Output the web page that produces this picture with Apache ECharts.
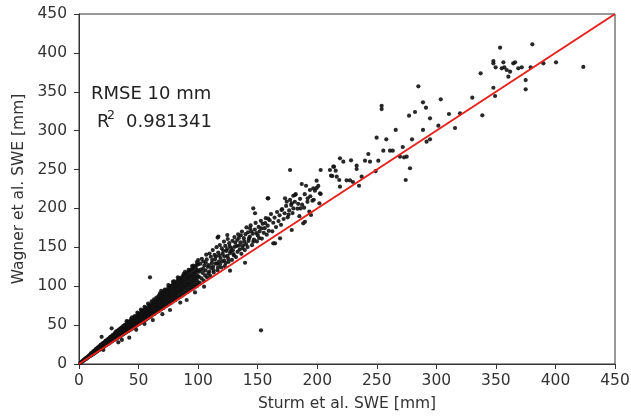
<!DOCTYPE html>
<html>
<head>
<meta charset="utf-8">
<script src="https://cdn.jsdelivr.net/npm/echarts@6/dist/echarts.min.js"></script>
<style>html,body{margin:0;padding:0;background:#fff}#c{width:631px;height:416px}</style>
</head>
<body>
<div id="c"></div>
<script>
// Axis ticks
const axisTicks = [0, 50, 100, 150, 200, 250, 300, 350, 400, 450];
// Annotation texts
const rmseText = 'RMSE 10 mm';
const r2Value = '0.981341';
// 1:1 reference line [Sturm, Wagner]
const oneToOne = [[0, 0], [450, 450]];

// Dense low range: [Sturm SWE, Wagner SWE]
const denseLow = [
[1,1.2],[2,2.5],[2.5,3],[3,3.6],[3.5,4.2],[4,4.6],[4,5.3],[5,5.8],[5,6.6],[6,6.5],[6,7.8],[7,7.6],[7,9],[8,8.7],[8,10.4],[9,10],[9,11.6],
[10,10.8],[10,12.5],[10,13.6],[11,12],[11,14.2],[12,13],[12,15.1],[12,16.3],[13,13.9],[13,16.8],[14,15.2],[14,17.5],[14,19],[15,16],[15,18.4],[15,20.2],
[16,17.2],[16,19.8],[16,21.5],[17,18],[17,20.7],[17,22.8],[18,19.3],[18,21.6],[18,24],[19,20.4],[19,23],[19,25.4],[20,21],[20,23.8],[20,26.5],
[21,22.3],[21,25],[21,27.6],[22,23.5],[22,26.2],[22,29],[23,24.6],[23,27.5],[23,30.2],[24,25.3],[24,28.4],[24,31.5],[25,26.6],[25,29.5],[25,32.8],
[26,27.4],[26,30.8],[26,34],[27,28.8],[27,31.6],[27,35.2],[28,29.5],[28,33],[28,36.4],[29,30.6],[29,34.2],[29,37.8],[30,31.5],[30,35],[30,39]
];

// Dense columns: [Sturm SWE, [Wagner SWE values]]
const denseCols = [
[31,[32,35.5,38.6,41.5]],[32.5,[33.4,36.8,40.1,43]],[34,[35,38.4,41.7,44.9]],[35.5,[36.4,39.6,43.5,46.8]],
[37,[38,41.3,45,48.6]],[38.5,[39.4,43,46.5,50.4]],[40,[41,44.6,48.2,52,55]],[41.5,[42.5,46,50,53.5]],
[43,[44,47.6,51.5,55.6]],[44.5,[45.3,49.4,53,57.2,60]],[46,[47,50.8,54.7,59]],[47.5,[48.3,52.5,56.4,60.6]],
[49,[50,54,58.3,62.5,66]],[50.5,[51.4,55.5,60,64]],[52,[53,57.4,61.6,66,70]],[53.5,[54.2,58.8,63.5,67.8]],
[55,[56,60.6,65,69.5,73.5]],[56.5,[57.3,62,66.8,71.2]],[58,[59,63.8,68.5,73,77.6]],[59.5,[60.3,65.4,70.2,75]],
[61,[62,66.5,71.5,76,80.5]],[63,[64,69,73.6,78.5,83]],[65,[66.2,71,76,80.5,85.4]],[67,[68,73,78.3,83,88]],
[69,[70.3,75.2,80.4,85.5,90.4,94]],[71,[72,77.5,82.6,88,93]],[73,[74.4,79.6,85,90.3,95.4]],[75,[76.2,81.8,87.4,92.5,98,101.5]],
[77,[78,84,89.5,95,100.5]],[79,[80.5,86,91.6,97.4,103,106]],[81,[82.2,88,94,99.6,105]],[83,[84.5,90.4,96.2,102,108,111.5]],
[85,[86.4,92.6,98.5,104.5,110]],[87,[88.2,94.5,100.8,107,113]],[89,[90.5,96.8,103,109.4,115.2,118.5]],[91,[92.4,99,105.2,111.6,117.5]],
[93,[94.6,101.2,107.6,114,120.4]],[95,[96.3,103,110,116.2,122.5,126]],[97,[98.5,105.4,112,118.6,125]],[99,[100.4,107.5,114.3,121,127.5,131]]
];

// Extra dense fill between the columns: [Sturm SWE, [Wagner SWE values]]
const denseFill = [
[10.5,[11.5,13]],[11.5,[12.6,14.8]],[12.5,[14,15.8]],[13.5,[14.6,17.2]],[14.5,[16.5,18.2]],[15.5,[17,19.5]],[16.5,[18.3,20.6]],[17.5,[19,21.9]],
[18.5,[20.2,22.6,24.8]],[19.5,[21.5,24.2]],[20.5,[22,25.1,27]],[21.5,[23.6,26]],[22.5,[24.2,27.5,29.8]],[23.5,[25.6,28.8]],[24.5,[26.2,29.8,32]],
[25.5,[27.8,31.2]],[26.5,[28.3,32.4,34.8]],[27.5,[29.9,33.4]],[28.5,[30.4,34.8,37]],[29.5,[32.2,36]],
[30.5,[33.6,37,40.2]],[31.8,[34,37.8,42]],[33.2,[35.8,39.6,43.4]],[34.8,[36.4,40.5,44]],[36.2,[38.6,42.5,46]],[37.8,[39.5,43.8,47.6]],
[39.2,[41.6,45.5,49.8]],[40.8,[42.2,47,51.6,54.4]],[42.2,[44.6,48.8,52.7]],[43.8,[45.2,49.8,54.6,58]],[45.2,[47.8,52,56.2]],[46.8,[48.5,53.3,57.8,61.5]],
[48.2,[50.6,55,59.6]],[49.8,[51.5,56.6,61.4,64.8]],[51.2,[53.8,58.5,63]],[52.8,[54.5,59.8,64.7,68.5]],[54.2,[57,61.8,66.6]],[55.8,[57.6,63.2,68,72]],
[57.2,[60,65,70]],[58.8,[60.8,66.4,71.6,75.8]],[60.2,[63.2,68.3,73.4]],
[62,[64.5,69.4,74.2,78.8]],[64,[66.5,71.8,76.8,81.5]],[66,[68.6,74,79.3,84]],[68,[70.8,76.4,81.8,86.6,90.8]],[70,[72.6,78,83.8,89.4]],
[72,[74.8,80.6,86.3,91.8,95.5]],[74,[76.8,82.8,88.6,94.2]],[76,[79,85,91,96.8,100.5]],[78,[81,87.3,93.4,99.4]],[80,[83,89.5,95.8,102,106.3]],
[82,[85.3,91.8,98.2,104.4]],[84,[87.4,94,100.6,107,110.5]],[86,[89.4,96.2,103,109.6]],[88,[91.5,98.6,105.6,112.2,116]],[90,[93.6,100.8,108,114.6]],
[92,[95.8,103,110.3,117.2,121]],[94,[98,105.4,112.6,119.8]],[96,[100,107.6,115,122.4,126.5]],[98,[102,110,117.6,124.8]],[100,[104,112,120,128,133.5]]
];

// Band between 100 and 200 mm: [Sturm SWE, Wagner SWE]
const bandMid = [
[101.3,104.8],[100.6,112.5],[102.2,121.4],[101.8,129],[103.1,135.2],
[104.7,107.3],[103.9,117.1],[105.2,126.6],[104.4,131.8],[106.8,140.6],
[107.5,111.4],[106.3,120.3],[108.1,124.9],[107.2,134.4],[109.6,142.1],
[110.2,113.2],[109.4,118.7],[111.5,129.7],[110.7,137.9],[112.3,146.5],
[113.1,117.8],[112.6,125.1],[114.2,134.8],[113.8,140.3],[115.5,150.2],
[116.3,120.5],[115.7,128.9],[117.4,131.6],[116.9,143.2],[118.2,152.9],
[119.5,124.1],[118.8,136.2],[120.6,141.7],[119.9,148.6],[121.7,157.4],
[122.4,125.9],[121.9,133.1],[123.6,145.3],[122.8,151.8],[124.9,160.7],
[125.6,131.4],[124.7,138.9],[126.8,142.6],[126.1,155.3],[127.7,149.2],
[128.4,133.8],[129.2,146.1],[128.9,158.4],[130.5,163.2],[130.1,139.6],
[131.8,137.5],[132.4,151.7],[131.2,155.9],[133.6,166.8],[133.1,144.2],
[134.9,147.1],[135.6,156.3],[134.2,162.1],[136.8,170.3],[136.3,141.7],
[137.7,152.4],[138.4,161.8],[139.2,146.5],[139.8,166.9],[140.6,175.6],
[141.5,150.3],[142.3,158.2],[141.9,169.4],[143.4,163.7],[144.1,178.2],
[145.2,152.8],[145.8,167.5],[146.9,160.1],[147.6,172.9],[148.3,181.4],
[149.4,157.6],[150.1,165.3],[150.8,176.2],[151.6,170.4],[152.7,184.1],
[153.5,161.2],[154.2,180.3],[155.1,168.7],[155.9,174.6],[156.8,187.5],
[157.6,166.3],[158.4,177.9],[159.3,171.2],[160.1,184.8],[161.2,192.7],
[162.3,170.6],[163.1,181.6],[164.2,188.3],[165.4,176.1],[166.3,195.4],
[167.5,183.7],[168.4,191.2],[169.6,178.9],[170.5,199.1],[171.8,186.4],
[172.6,193.8],[173.9,203.2],[175.2,188.6],[176.4,197.5],[178.1,204.3],
[179.3,194.1],[181.2,208.6],[183.4,199.7],[185.6,212.4],[187.3,204.8],
[189.5,218.3],[191.8,208.5],[194.2,215.7],[197.1,211.2],[199.6,226.4],
[100.9,118.6],[102.8,110.2],[104.1,122.3],[105.9,113.9],[106.5,130.1],[108.7,116.4],[109.1,127.2],[110.9,123.5],
[111.8,133.6],[112.9,120.8],[114.6,129.4],[115.1,138.4],[116.7,124.2],[117.8,139.7],[118.3,128.1],[120.2,131.9],
[121.1,145.6],[122.1,138.4],[123.2,129.7],[124.3,147.8],[125.2,135.4],[126.4,151.6],[127.3,145.1],[129.6,141.3],
[130.7,150.6],[132.8,159.4],[134.4,152.2],[135.9,165.4],[137.3,148.9],[138.7,157.6],[140.3,154.1],[142.7,161.5],
[144.6,170.7],[146.3,157.3],[148.9,168.2],[151.2,161.9],[153.1,174.3],[156.3,181.2],[158.9,186.9]
];

// Scattered points in the mid range: [Sturm SWE, Wagner SWE]
const scatterMid = [
[27.4,45.9],[19,35],[33,27.9],[42.2,33.8],[20.4,18],[36,31],[48,44],[59.6,111.4],
[76.4,69.4],[90.4,82.3],[97.4,92],[70,64],[62,56.5],[85,79],[55,51.5],
[105,99.4],[126.8,120],[139.4,130.2],[117,163.7],[116.4,162.6],[124.5,165.8],[143.6,174.5],
[146.3,200.2],[147.8,193.8],[158.4,213],[164.6,155.2],[168.8,161.6],[178.6,172.3],[189.7,182.9],
[193.4,195.8],[194.8,191.6],[177.2,249.4],[181.4,217.3],[177.2,210.9],[174.4,208.7],[178.6,206.6],
[187,231.4],[190.6,229.2],[199.5,235.7],[200.9,228.9],[196.7,225.9],[193.9,223.7],[198.1,222.8],
[202.3,219.5],[192,213],[201.8,206.6],[202.9,249.4],[214.1,253.7],[215.5,248.5],[212.7,241.7],
[216.4,240.8],[158.9,213],[173,213],[179.9,216.3],[181.9,218.4],[202.9,218.6],[152.8,43.3],
[163.1,155.2],[188.3,180.9],[186,200],[184,206],[170,198],[185,190],[176,192],[180,200],[189,201],[196,210]
];

// Scattered points in the high range: [Sturm SWE, Wagner SWE]
const scatterHigh = [
[218.5,236.6],[219.1,228],[224.7,236.2],[227.5,236.2],[230,234],[233.1,250.7],[233.1,255],[235.1,229.2],
[237.3,240.8],[219.1,264.5],[221.9,260.1],[228.4,261.9],[210.7,249.4],[213.5,253.7],[211.6,242.1],
[240.1,261.4],[244.3,260.1],[242.9,270],[249.1,248.1],[251.3,261.4],[249.9,291],[254.1,332],[254.1,327.8],
[255.5,274.3],[261.1,274.3],[263.4,274.3],[258,288.9],[265.9,300.9],[269.5,266.6],[272.9,265.7],[275.1,266.6],
[271.8,279],[277.9,251.7],[274.3,236.6],[279.6,288.9],[284.9,357],[288.8,336.5],[291.3,329.6],[282.1,324],
[277.1,319.3],[294.7,315.9],[288.8,300.9],[291.8,285.8],[294.7,288.9],[301.7,306.4],[303.7,340.3],
[310.6,321.4],[315.7,303.4],[319.9,322.3],[330.2,342.4],[338.6,319.7],[337.2,373.7],[347.9,389.6],
[347.9,386.6],[356.3,387.9],[349.8,381.4],[354.9,380.2],[357.1,381.4],[359.1,378],[361.9,375.8],
[364.6,386.6],[366.1,387.9],[368.8,380.2],[371.7,381.4],[353.5,406.7],[380.6,411],[379.2,381.4],
[389.9,386.6],[400.5,387.9],[423.4,381.9],[375,365.1],[375,353.2],[347.9,355.2],[349.3,344.6],[360.5,369.4]
];

const points = denseLow.slice();
denseCols.concat(denseFill).forEach(function (c) { c[1].forEach(function (v) { points.push([c[0], v]); }); });
bandMid.forEach(function (p) { points.push(p); });
scatterMid.forEach(function (p) { points.push(p); });
scatterHigh.forEach(function (p) { points.push(p); });

const FONT = 'DejaVu Sans';
const chart = echarts.init(document.getElementById('c'), null, { renderer: 'canvas' });
const axisCommon = {
  type: 'value', min: 0, max: 450, interval: 50,
  splitLine: { show: false },
  axisLine: { show: true, onZero: false, lineStyle: { color: '#333', width: 1 } },
  axisTick: { show: true, inside: false, length: 5, lineStyle: { color: '#333' } },
  nameLocation: 'middle',
  nameTextStyle: { fontFamily: FONT, fontSize: 15.5, color: '#333' }
};
chart.setOption({
  animation: false,
  backgroundColor: '#fff',
  grid: { left: 79, right: 16, top: 14, bottom: 52, show: true, borderColor: '#333', borderWidth: 1, containLabel: false, outerBoundsMode: 'none' },
  xAxis: Object.assign({}, axisCommon, {
    name: 'Sturm et al. SWE [mm]', nameGap: 32,
    axisLabel: { margin: 9, fontFamily: FONT, fontSize: 15.5, color: '#333',
      formatter: function (v) { return axisTicks.indexOf(v) >= 0 ? String(v) : ''; } }
  }),
  yAxis: Object.assign({}, axisCommon, {
    name: 'Wagner et al. SWE [mm]', nameGap: 52,
    axisLabel: { margin: 12, fontFamily: FONT, fontSize: 15.5, color: '#333',
      formatter: function (v) { return axisTicks.indexOf(v) >= 0 ? String(v) : ''; } }
  }),
  series: [
    { type: 'scatter', data: points, symbol: 'circle', symbolSize: 4.2,
      itemStyle: { color: '#111', opacity: 0.9 }, z: 2, large: false },
    { type: 'line', data: oneToOne, symbol: 'none', lineStyle: { color: '#e8211c', width: 2 }, z: 3 }
  ],
  graphic: [
    { type: 'text', x: 91, y: 94, style: { text: rmseText, font: '18px "DejaVu Sans"', fill: '#222', verticalAlign: 'middle' } },
    { type: 'text', x: 97, y: 122, style: { text: 'R', font: '18px "DejaVu Sans"', fill: '#222', verticalAlign: 'middle' } },
    { type: 'text', x: 107, y: 115.5, style: { text: '2', font: '12.5px "DejaVu Sans"', fill: '#222', verticalAlign: 'middle' } },
    { type: 'text', x: 126, y: 122, style: { text: r2Value, font: '18px "DejaVu Sans"', fill: '#222', verticalAlign: 'middle' } }
  ]
});
</script>
</body>
</html>
